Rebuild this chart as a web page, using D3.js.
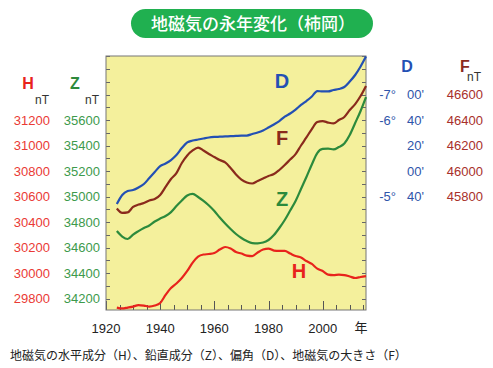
<!DOCTYPE html>
<html><head><meta charset="utf-8">
<script src="https://cdn.jsdelivr.net/npm/d3@7/dist/d3.min.js"></script>
<style>
body{margin:0;background:#fff;}
svg{display:block;}
text{font-family:"Liberation Sans","Noto Sans CJK JP",sans-serif;}
.jp{font-family:"Noto Sans CJK JP",sans-serif;}
</style></head>
<body>
<svg id="c" width="493" height="368"></svg>
<script>
// ---- data ----
const years = [1924,1926,1928,1930,1932,1934,1936,1938,1940,1942,1944,1946,1948,1950,1952,1954,1956,1958,1960,1962,1964,1966,1968,1970,1972,1974,1976,1978,1980,1982,1984,1986,1988,1990,1992,1994,1996,1998,2000,2002,2004,2006,2008,2010,2012,2014,2016];
// horizontal component H (nT)
const H = [29729,29722,29729,29737,29749,29745,29737,29745,29765,29828,29882,29918,29961,30016,30082,30129,30145,30149,30157,30184,30204,30192,30165,30153,30137,30133,30161,30184,30192,30176,30173,30173,30153,30133,30122,30094,30071,30035,30016,29988,29984,29988,29984,29973,29961,29969,29976];
// vertical component Z (nT)
const Z = [34729,34686,34667,34702,34729,34753,34773,34804,34827,34847,34878,34925,34969,35008,35020,34996,34965,34929,34886,34835,34788,34745,34706,34675,34651,34635,34633,34639,34659,34698,34753,34816,34890,34965,35059,35153,35251,35341,35373,35376,35369,35388,35416,35482,35576,35671,35780];
// declination D (minutes of arc, negative = west)
const D = [-334.1,-341.2,-344.3,-345.1,-347.1,-349.8,-354.5,-359.2,-363.9,-365.9,-368.6,-372.5,-378,-382.4,-383.9,-384.7,-385.5,-386.3,-386.7,-386.9,-387.1,-387.3,-387.5,-387.7,-387.8,-389,-390.2,-391.8,-394.1,-396.5,-399.2,-402.7,-405.1,-408.2,-411.8,-414.9,-418.4,-422.7,-422.4,-422.4,-423.5,-424.3,-425.9,-430.2,-435.3,-442,-449.8];
// total intensity F (nT)
const F = [45706,45671,45675,45718,45737,45749,45769,45780,45812,45875,45937,45984,46063,46122,46161,46184,46161,46133,46110,46086,46067,46024,45973,45933,45910,45902,45922,45941,45961,45976,46008,46047,46090,46133,46200,46263,46329,46384,46392,46380,46373,46400,46424,46478,46525,46588,46667];

const xTicks = [1920,1940,1960,1980,2000];
const hTicks = [29800,30000,30200,30400,30600,30800,31000,31200];
const zTicks = [34200,34400,34600,34800,35000,35200,35400,35600];
const dTicks = [-420,-400,-380,-360,-340];
const dTickLabels = [["-7°","00'"],["-6°","40'"],["","20'"],["","00'"],["-5°","40'"]];
const fTicks = [45800,46000,46200,46400,46600];

const title = "地磁気の永年変化（柿岡）";
const caption = "地磁気の水平成分（H）、鉛直成分（Z）、偏角（D）、地磁気の大きさ（F）";

// ---- layout ----
const L = 106, R = 366, T = 56, B = 310;
const svg = d3.select("#c");

const x = d3.scaleLinear().domain([1920, 2016]).range([L, R]);
const yH = d3.scaleLinear().domain([29710, 31702]).range([B, T]);
const yZ = d3.scaleLinear().domain([34110, 36102]).range([B, T]);
const yF = d3.scaleLinear().domain([44910, 46902]).range([B, T]);
const yD = d3.scaleLinear().domain([-251, -450.2]).range([B, T]);

const col = {H:"#e8231c", Z:"#2c8a3c", D:"#2350b4", F:"#8a2a1c"};
const tcol = {H:"#ea3a35", Z:"#3d9a4c", D:"#2f55aa", F:"#a8302a"};

// title
svg.append("rect").attr("x",131).attr("y",9).attr("width",242).attr("height",29)
  .attr("rx",14.5).attr("fill","#20b050");
svg.append("text").attr("class","jp").attr("x",253).attr("y",29.5).attr("text-anchor","middle")
  .attr("fill","#fff").attr("font-size",17).attr("font-weight",500).text(title);

// plot background
svg.append("rect").attr("x",L).attr("y",T).attr("width",R-L).attr("height",B-T)
  .attr("fill","#f4f09c");

// ticks (inside)
const g = svg.append("g");
const minorY = d3.range(29800, 31701, 100);
minorY.forEach(v=>{
  const yy = Math.round(yH(v))+0.5;
  g.append("line").attr("x1",L).attr("x2",L+4).attr("y1",yy).attr("y2",yy).attr("stroke","#666").attr("stroke-width",1);
  g.append("line").attr("x1",R-4).attr("x2",R).attr("y1",yy).attr("y2",yy).attr("stroke","#666").attr("stroke-width",1);
});
d3.range(1920, 2016, 5).forEach(v=>{
  const xx = Math.round(x(v))+0.5;
  const major = v % 20 === 0;
  g.append("line").attr("x1",xx).attr("x2",xx).attr("y1",B).attr("y2",B-(major?9:5)).attr("stroke","#555").attr("stroke-width",1);
});

// border
svg.append("rect").attr("x",L).attr("y",T).attr("width",R-L).attr("height",B-T)
  .attr("fill","none").attr("stroke","#777").attr("stroke-width",1);

// lines
const mk = (ys)=> d3.line().x((d,i)=>x(years[i])).y(d=>ys(d)).curve(d3.curveMonotoneX);
[["D",D,yD],["F",F,yF],["Z",Z,yZ],["H",H,yH]].forEach(([k,arr,sc])=>{
  svg.append("path").datum(arr).attr("d",mk(sc)).attr("fill","none")
    .attr("stroke",col[k]).attr("stroke-width",2.2).attr("stroke-linejoin","round");
});

// inline labels
[["D",282,88],["F",282,145],["Z",282,206],["H",299,278]].forEach(([k,xx,yy])=>{
  svg.append("text").attr("x",xx).attr("y",yy).attr("text-anchor","middle")
    .attr("font-size",20).attr("font-weight","bold").attr("fill",col[k]).text(k);
});

// left axes labels
svg.append("text").attr("x",28).attr("y",89).attr("text-anchor","middle").attr("font-size",16).attr("font-weight","bold").attr("fill",col.H).text("H");
svg.append("text").attr("x",75).attr("y",89).attr("text-anchor","middle").attr("font-size",16).attr("font-weight","bold").attr("fill",col.Z).text("Z");
svg.append("text").attr("x",49).attr("y",104).attr("text-anchor","end").attr("font-size",12).attr("fill","#333").text("nT");
svg.append("text").attr("x",99).attr("y",104).attr("text-anchor","end").attr("font-size",12).attr("fill","#333").text("nT");
hTicks.forEach(v=>{
  svg.append("text").attr("x",50).attr("y",yH(v)+4.5).attr("text-anchor","end").attr("font-size",13).attr("fill",tcol.H).text(v);
});
zTicks.forEach(v=>{
  svg.append("text").attr("x",100).attr("y",yZ(v)+4.5).attr("text-anchor","end").attr("font-size",13).attr("fill",tcol.Z).text(v);
});

// right axes labels
svg.append("text").attr("x",407).attr("y",72).attr("text-anchor","middle").attr("font-size",16).attr("font-weight","bold").attr("fill",col.D).text("D");
svg.append("text").attr("x",465).attr("y",72).attr("text-anchor","middle").attr("font-size",16).attr("font-weight","bold").attr("fill",col.F).text("F");
svg.append("text").attr("x",481).attr("y",81).attr("text-anchor","end").attr("font-size",12).attr("fill","#333").text("nT");
dTicks.forEach((v,i)=>{
  const [deg,min] = dTickLabels[i];
  if(deg) svg.append("text").attr("x",396).attr("y",yD(v)+4.5).attr("text-anchor","end").attr("font-size",13).attr("fill",tcol.D).text(deg);
  svg.append("text").attr("x",424).attr("y",yD(v)+4.5).attr("text-anchor","end").attr("font-size",13).attr("fill",tcol.D).text(min);
});
fTicks.forEach(v=>{
  svg.append("text").attr("x",483).attr("y",yF(v)+4.5).attr("text-anchor","end").attr("font-size",13).attr("fill",tcol.F).text(v);
});

// x tick labels
xTicks.forEach(v=>{
  svg.append("text").attr("x",x(v)).attr("y",333).attr("text-anchor","middle").attr("font-size",13).attr("fill","#222").text(v);
});
svg.append("text").attr("class","jp").attr("x",361).attr("y",332).attr("text-anchor","middle").attr("font-size",13).attr("fill","#222").text("年");

// caption
svg.append("text").attr("class","jp").attr("x",10).attr("y",360).attr("font-size",12).attr("fill","#222").text(caption);
</script>
</body></html>
